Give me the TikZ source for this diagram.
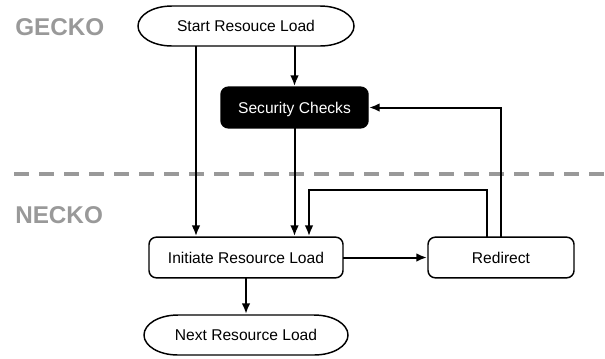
\documentclass[tikz,border=0pt]{standalone}
\usepackage{fontspec}
\setmainfont{Liberation Sans}
\usetikzlibrary{arrows.meta}
\definecolor{lbl}{HTML}{999999}
\newcommand{\pilloutline}[1]{%
  \draw[line width=1.1pt] (#1.west)
    .. controls ([yshift=8.25pt]#1.west) and ([xshift=11.1pt]#1.north west) .. ([xshift=25.5pt]#1.north west)
    -- ([xshift=-25.5pt]#1.north east)
    .. controls ([xshift=-11.1pt]#1.north east) and ([yshift=8.25pt]#1.east) .. (#1.east)
    .. controls ([yshift=-8.25pt]#1.east) and ([xshift=-11.1pt]#1.south east) .. ([xshift=-25.5pt]#1.south east)
    -- ([xshift=25.5pt]#1.south west)
    .. controls ([xshift=11.1pt]#1.south west) and ([yshift=-8.25pt]#1.west) .. cycle;}
\tikzset{
  px/.style={x=0.75pt,y=-0.75pt},
  box/.style={draw=black,line width=1.1pt,rounded corners=5.5pt,font=\fontsize{11.7}{14}\selectfont,text height=8.4pt,text depth=0pt,inner sep=0pt,outer sep=0pt,fill=white,minimum height=30.5pt},
  pill/.style={font=\fontsize{11.7}{14}\selectfont,text height=8.4pt,text depth=0pt,inner sep=0pt,outer sep=0pt,minimum height=30pt},
  conn/.style={line width=1.5pt,-{Latex[length=8pt,width=6.5pt]},shorten >=0.8pt},
  lab/.style={font=\bfseries\fontsize{18.2}{20}\selectfont,text=lbl,anchor=west,inner sep=0pt}
}
\begin{document}
\begin{tikzpicture}[px]
\useasboundingbox (0,0) rectangle (605,358);
\coordinate (dl) at (14,173.5);
\coordinate (dr) at (605,173.5);
\draw[line width=3pt,draw=lbl,dash pattern=on 11.25pt off 7.5pt] (dl) -- (dr);
\node[pill,minimum width=162pt] (start) at (246,26) {Start Resouce Load};
\pilloutline{start}
\node[box,fill=black,text=white,minimum width=110.25pt] (sec) at (294.5,107.5) {Security Checks};
\node[box,minimum width=145.5pt] (init) at (246,257.5) {Initiate Resource Load};
\node[box,minimum width=109.5pt] (red) at (501,257.5) {Redirect};
\node[pill,minimum width=153pt] (next) at (246,335) {Next Resource Load};
\pilloutline{next}
\node[lab] (gecko) at (15,27.5) {GECKO};
\node[lab] (necko) at (15,215) {NECKO};
\draw[conn] (start.south -| 196,0) -- (init.north -| 196,0);
\draw[conn] (start.south -| sec.north) -- (sec.north);
\draw[conn] (sec.south) -- (init.north -| sec.south);
\draw[conn] (init.east) -- (red.west);
\draw[conn] (init.south) -- (next.north);
\draw[conn] (red.north -| 487,0) |- (309,190) -- (init.north -| 309,0);
\draw[conn] (red.north -| 501,0) |- (sec.east);
\end{tikzpicture}
\end{document}
